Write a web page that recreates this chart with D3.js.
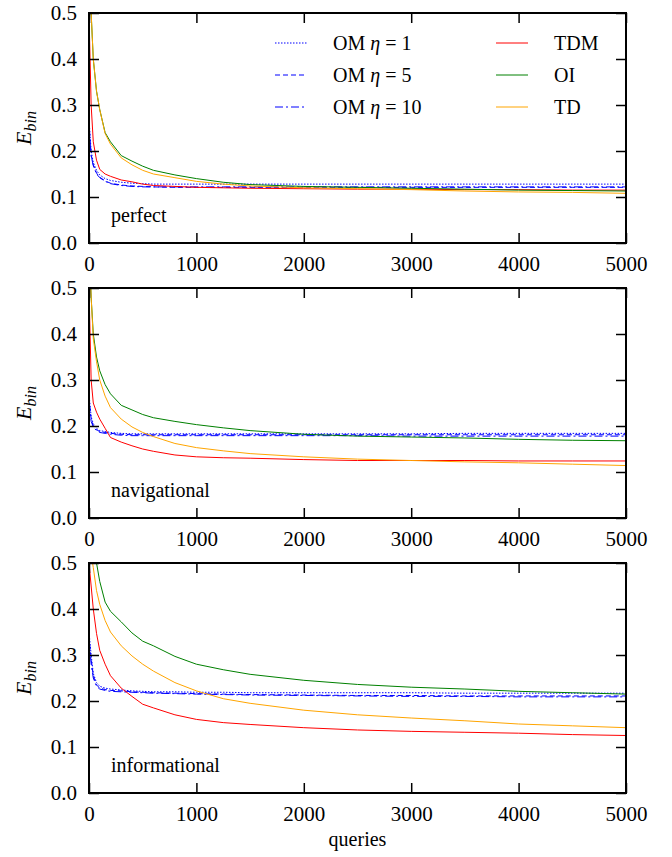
<!DOCTYPE html>
<html>
<head>
<meta charset="utf-8">
<script src="https://cdn.jsdelivr.net/npm/d3@7/dist/d3.min.js"></script>
<style>
  body { margin: 0; background: #fff; }
  svg { display: block; }
  .tick line { stroke: #000; stroke-width: 1.5; }
  .domain { display: none; }
</style>
</head>
<body>
<div id="chart"></div>
<script>
// Width and height
var w = 672;
var h = 857;
var serif = "'Liberation Serif', 'DejaVu Serif', serif";

var queries = [0, 20, 40, 70, 100, 150, 200, 300, 400, 500, 600, 800, 1000, 1250, 1500, 2000, 2500, 3000, 3500, 4000, 4500, 5000];

var panelNames = ["perfect", "navigational", "informational"];
var seriesNames = ["OM η = 1", "OM η = 5", "OM η = 10", "TDM", "OI", "TD"];

// perfect
var perfectOM1  = [0.27, 0.20, 0.175, 0.158, 0.148, 0.140, 0.136, 0.132, 0.130, 0.129, 0.128, 0.128, 0.128, 0.128, 0.128, 0.128, 0.128, 0.128, 0.128, 0.128, 0.128, 0.128];
var perfectOM5  = [0.26, 0.19, 0.170, 0.152, 0.143, 0.135, 0.130, 0.126, 0.124, 0.123, 0.122, 0.121, 0.121, 0.121, 0.121, 0.121, 0.121, 0.121, 0.121, 0.121, 0.121, 0.121];
var perfectOM10 = [0.25, 0.19, 0.168, 0.150, 0.142, 0.134, 0.129, 0.125, 0.123, 0.122, 0.122, 0.122, 0.122, 0.122, 0.122, 0.122, 0.122, 0.122, 0.122, 0.122, 0.122, 0.122];
var perfectTDM  = [0.50, 0.30, 0.22, 0.18, 0.160, 0.150, 0.145, 0.137, 0.133, 0.128, 0.125, 0.123, 0.121, 0.120, 0.119, 0.118, 0.117, 0.117, 0.116, 0.116, 0.115, 0.115];
var perfectOI   = [0.60, 0.50, 0.40, 0.33, 0.290, 0.240, 0.220, 0.190, 0.178, 0.167, 0.158, 0.148, 0.140, 0.132, 0.127, 0.123, 0.121, 0.119, 0.117, 0.115, 0.114, 0.113];
var perfectTD   = [0.60, 0.50, 0.40, 0.33, 0.290, 0.238, 0.215, 0.185, 0.170, 0.158, 0.150, 0.142, 0.134, 0.128, 0.124, 0.120, 0.118, 0.116, 0.113, 0.111, 0.110, 0.108];

// navigational
var navOM1  = [0.27, 0.22, 0.205, 0.195, 0.190, 0.188, 0.186, 0.184, 0.183, 0.183, 0.183, 0.183, 0.183, 0.183, 0.183, 0.183, 0.183, 0.183, 0.184, 0.184, 0.184, 0.184];
var navOM5  = [0.26, 0.215, 0.200, 0.192, 0.188, 0.186, 0.184, 0.182, 0.181, 0.181, 0.181, 0.181, 0.181, 0.181, 0.181, 0.181, 0.181, 0.181, 0.181, 0.181, 0.181, 0.181];
var navOM10 = [0.25, 0.21, 0.198, 0.190, 0.186, 0.184, 0.182, 0.180, 0.179, 0.179, 0.179, 0.179, 0.179, 0.179, 0.179, 0.179, 0.179, 0.178, 0.178, 0.178, 0.178, 0.178];
var navTDM  = [0.50, 0.30, 0.25, 0.23, 0.215, 0.195, 0.175, 0.165, 0.157, 0.150, 0.145, 0.137, 0.133, 0.131, 0.130, 0.127, 0.125, 0.125, 0.125, 0.124, 0.124, 0.124];
var navOI   = [0.60, 0.48, 0.40, 0.35, 0.320, 0.290, 0.270, 0.245, 0.235, 0.225, 0.218, 0.210, 0.203, 0.196, 0.190, 0.182, 0.178, 0.176, 0.174, 0.171, 0.169, 0.168];
var navTD   = [0.60, 0.48, 0.39, 0.34, 0.300, 0.265, 0.240, 0.215, 0.198, 0.186, 0.177, 0.162, 0.153, 0.146, 0.140, 0.133, 0.128, 0.125, 0.122, 0.120, 0.117, 0.114];

// informational
var infOM1  = [0.35, 0.30, 0.260, 0.240, 0.232, 0.228, 0.226, 0.224, 0.222, 0.221, 0.220, 0.220, 0.219, 0.219, 0.218, 0.218, 0.218, 0.218, 0.217, 0.217, 0.217, 0.217];
var infOM5  = [0.34, 0.29, 0.255, 0.235, 0.228, 0.225, 0.223, 0.222, 0.220, 0.219, 0.218, 0.217, 0.216, 0.215, 0.214, 0.213, 0.212, 0.212, 0.211, 0.211, 0.211, 0.211];
var infOM10 = [0.33, 0.28, 0.250, 0.232, 0.226, 0.223, 0.221, 0.220, 0.219, 0.218, 0.217, 0.216, 0.215, 0.214, 0.213, 0.212, 0.211, 0.210, 0.210, 0.209, 0.209, 0.209];
var infTDM  = [0.50, 0.45, 0.40, 0.347, 0.310, 0.280, 0.255, 0.228, 0.210, 0.193, 0.185, 0.170, 0.160, 0.153, 0.149, 0.142, 0.137, 0.134, 0.132, 0.130, 0.127, 0.125];
var infOI   = [0.60, 0.55, 0.52, 0.50, 0.460, 0.415, 0.395, 0.372, 0.348, 0.330, 0.320, 0.297, 0.280, 0.268, 0.258, 0.245, 0.236, 0.230, 0.226, 0.221, 0.218, 0.215];
var infTD   = [0.60, 0.52, 0.49, 0.44, 0.410, 0.375, 0.350, 0.320, 0.298, 0.280, 0.265, 0.240, 0.222, 0.205, 0.195, 0.180, 0.170, 0.163, 0.157, 0.150, 0.146, 0.142];

var xTicks = [0, 1000, 2000, 3000, 4000, 5000];
var yTicks = [0.0, 0.1, 0.2, 0.3, 0.4, 0.5];

var panelData = [
  [perfectOM1, perfectOM5, perfectOM10, perfectTDM, perfectOI, perfectTD],
  [navOM1, navOM5, navOM10, navTDM, navOI, navTD],
  [infOM1, infOM5, infOM10, infTDM, infOI, infTD]
];

var colors = ["#0000ff", "#0000ff", "#0000ff", "#ff0000", "#008000", "#ffa500"];
var dashes = ["1.5,1.5", "5,3", "8,3,2,3", null, null, null];

var left = 89, plotW = 537, plotH = 230;
var tops = [13, 288, 563];

var x = d3.scaleLinear().domain([0, 5000]).range([0, plotW]);
var y = d3.scaleLinear().domain([0, 0.5]).range([plotH, 0]);

var svg = d3.select("#chart")
  .append("svg")
  .attr("width", w)
  .attr("height", h)
  .style("font-family", serif);

svg.append("defs").append("clipPath")
  .attr("id", "plotclip")
  .append("rect")
  .attr("width", plotW)
  .attr("height", plotH);

var line = d3.line()
  .x(function(d, i) { return x(queries[i]); })
  .y(function(d) { return y(d); });

function styleTicks(sel) {
  sel.attr("font-family", serif).attr("font-size", 21);
  sel.selectAll("text")
    .style("font-family", serif)
    .style("font-size", "21px")
    .attr("fill", "#000");
}

panelData.forEach(function(series, p) {
  var g = svg.append("g").attr("transform", "translate(" + left + "," + tops[p] + ")");

  // curves
  var lines = g.append("g").attr("clip-path", "url(#plotclip)");
  series.forEach(function(vals, s) {
    lines.append("path")
      .attr("d", line(vals))
      .attr("fill", "none")
      .attr("stroke", colors[s])
      .attr("stroke-width", 1)
      .attr("stroke-dasharray", dashes[s]);
  });

  // axes, ticks point inward
  g.append("g").attr("transform", "translate(0," + plotH + ")")
    .call(d3.axisBottom(x).tickValues(xTicks).tickSize(-10).tickPadding(13).tickFormat(d3.format("d")))
    .call(styleTicks);
  g.append("g")
    .call(d3.axisTop(x).tickValues(xTicks).tickSize(-10).tickFormat(""));
  g.append("g")
    .call(d3.axisLeft(y).tickValues(yTicks).tickSize(-10).tickPadding(12).tickFormat(d3.format(".1f")))
    .call(styleTicks);
  g.append("g").attr("transform", "translate(" + plotW + ",0)")
    .call(d3.axisRight(y).tickValues(yTicks).tickSize(-10).tickFormat(""));

  g.append("rect")
    .attr("width", plotW)
    .attr("height", plotH)
    .attr("fill", "none")
    .attr("stroke", "#000")
    .attr("stroke-width", 2);

  // y label E_bin
  var yl = g.append("text")
    .attr("transform", "translate(" + (-58) + "," + (plotH / 2) + ") rotate(-90)")
    .attr("text-anchor", "middle")
    .attr("font-size", "22px")
    .attr("font-style", "italic");
  yl.append("tspan").text("E");
  yl.append("tspan").attr("font-size", "16px").attr("dy", 5).text("bin");

  // panel name
  g.append("text")
    .attr("x", 22)
    .attr("y", 209)
    .attr("font-size", "20px")
    .text(panelNames[p]);
});

// legend (top panel)
var legend = svg.append("g").attr("transform", "translate(0," + tops[0] + ")");
seriesNames.forEach(function(name, i) {
  var col = Math.floor(i / 3), row = i % 3;
  var lx = col === 0 ? 275 : 496;
  var tx = col === 0 ? 333 : 554;
  var ly = 30 + row * 32;
  legend.append("line")
    .attr("x1", lx).attr("x2", lx + 32)
    .attr("y1", ly).attr("y2", ly)
    .attr("stroke", colors[i])
    .attr("stroke-width", 1)
    .attr("stroke-dasharray", dashes[i]);
  var t = legend.append("text")
    .attr("x", tx)
    .attr("y", ly + 7)
    .attr("font-size", "20px");
  if (name.indexOf("η") >= 0) {
    var parts = name.split("η");
    t.append("tspan").text(parts[0]);
    t.append("tspan").attr("font-style", "italic").text("η");
    t.append("tspan").text(parts[1]);
  } else {
    t.text(name);
  }
});

// x label
svg.append("text")
  .attr("x", left + plotW / 2)
  .attr("y", 846)
  .attr("text-anchor", "middle")
  .attr("font-size", "20px")
  .text("queries");
</script>
</body>
</html>
